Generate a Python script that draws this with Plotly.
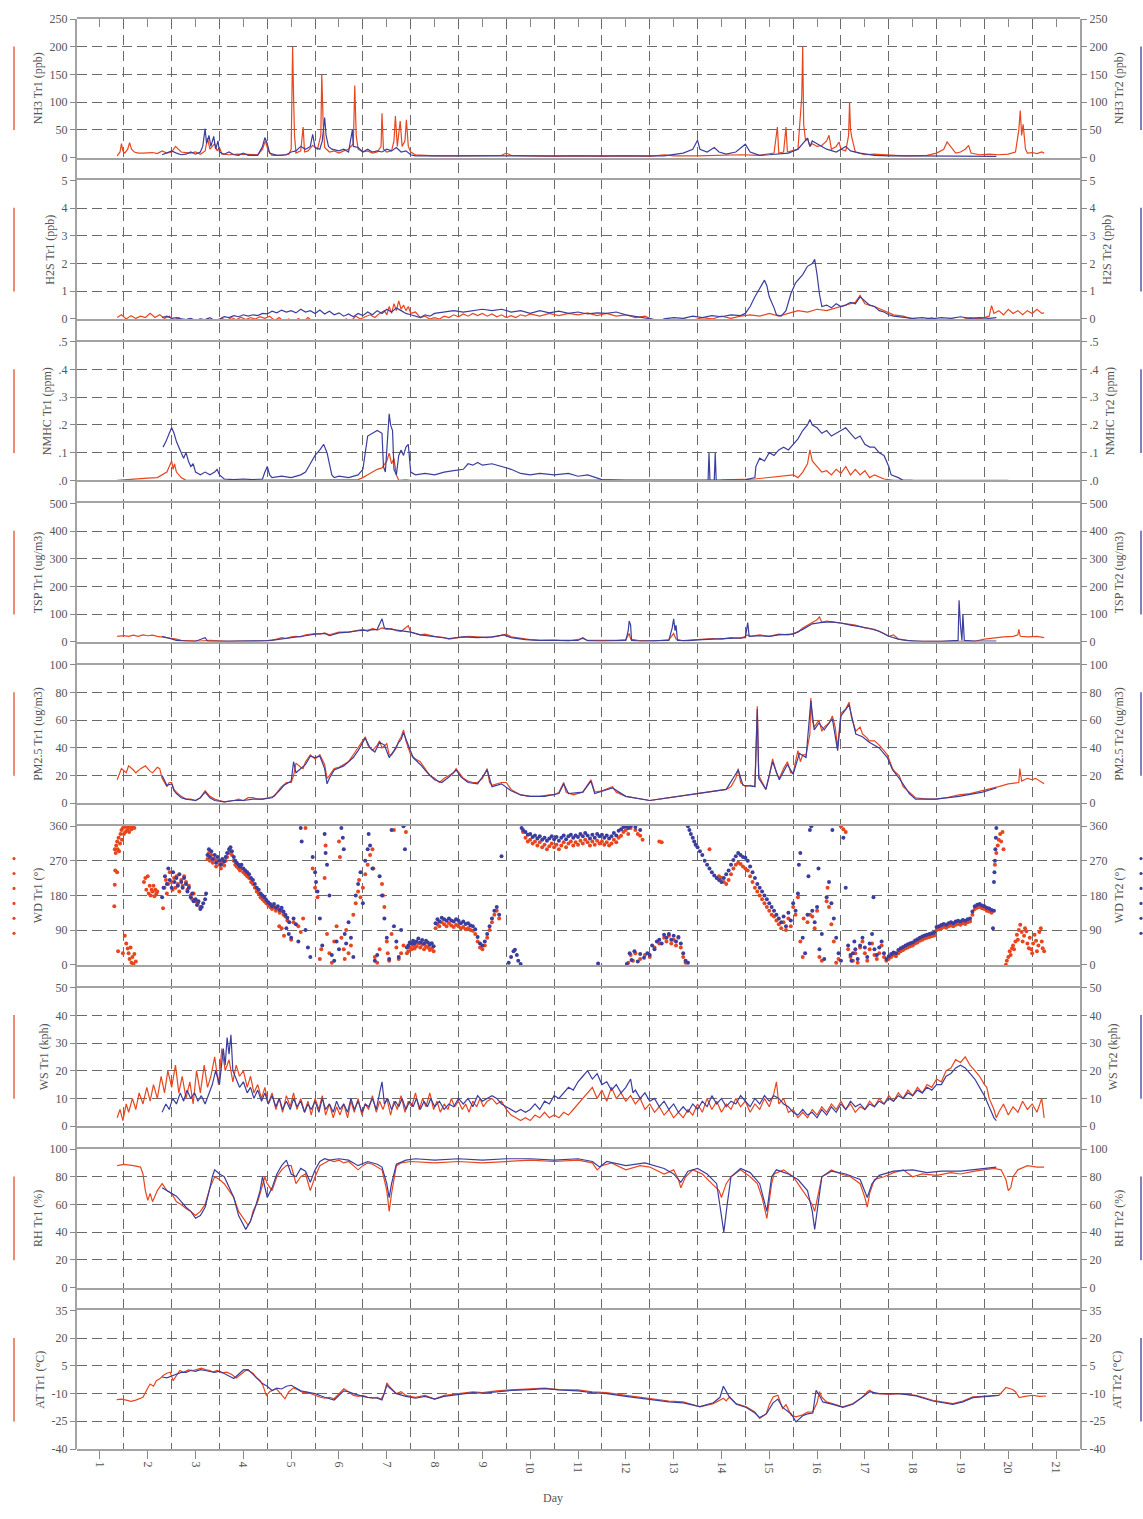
import plotly.graph_objects as go

# ---------------- data (day, value) ----------------
NH3_TR1 = [(1.36,3),(1.42,10),(1.45,25),(1.48,12),(1.52,8),(1.58,15),(1.62,27),(1.66,15),(1.72,10),(1.8,8),(1.9,8),(2.0,8),(2.1,9),(2.2,7),(2.3,12),(2.4,8),(2.5,10),(2.58,20),(2.64,14),(2.7,10),(2.8,9),(2.9,8),(3.0,10),(3.1,6),(3.2,12),(3.25,35),(3.3,15),(3.4,25),(3.45,12),(3.5,18),(3.55,6),(3.7,5),(3.9,6),(4.1,5),(4.3,5),(4.4,15),(4.46,30),(4.52,12),(4.6,4),(4.8,4),(4.95,6),(5.0,15),(5.03,200),(5.05,110),(5.07,40),(5.1,8),(5.2,12),(5.25,55),(5.28,10),(5.35,12),(5.45,22),(5.55,15),(5.62,40),(5.64,150),(5.67,60),(5.7,18),(5.8,10),(5.9,12),(6.0,8),(6.1,12),(6.2,15),(6.3,25),(6.33,130),(6.36,40),(6.4,15),(6.5,10),(6.6,12),(6.7,8),(6.8,10),(6.88,20),(6.9,80),(6.93,15),(7.0,10),(7.1,12),(7.15,30),(7.18,75),(7.22,20),(7.28,66),(7.32,20),(7.38,30),(7.41,68),(7.45,20),(7.5,10),(7.6,5),(7.8,4),(8.0,3),(8.5,3),(9.0,3),(9.4,4),(9.5,8),(9.6,4),(10.0,3),(10.5,2),(11.0,3),(11.5,2),(12.0,3),(12.5,2),(12.8,5),(13.0,3),(13.5,3),(14.0,4),(14.4,5),(14.8,4),(15.1,8),(15.17,55),(15.2,8),(15.3,10),(15.35,55),(15.38,10),(15.5,12),(15.6,15),(15.68,110),(15.7,200),(15.72,60),(15.76,30),(15.8,35),(15.85,20),(15.9,25),(16.0,20),(16.1,22),(16.2,30),(16.25,40),(16.3,15),(16.4,20),(16.46,28),(16.5,15),(16.6,12),(16.66,40),(16.68,100),(16.7,50),(16.73,35),(16.8,10),(17.0,5),(17.2,6),(17.5,4),(17.8,3),(18.0,3),(18.3,4),(18.5,8),(18.65,15),(18.72,28),(18.8,20),(18.9,8),(19.0,10),(19.1,15),(19.17,22),(19.22,8),(19.4,5),(19.6,6),(19.8,5),(20.0,6),(20.15,10),(20.22,50),(20.25,85),(20.28,40),(20.31,60),(20.33,45),(20.36,15),(20.4,8),(20.5,9),(20.6,7),(20.7,10),(20.75,8)]
NH3_TR2 = [(2.3,5),(2.4,8),(2.5,12),(2.6,8),(2.7,5),(2.8,6),(2.9,10),(3.0,6),(3.1,10),(3.15,20),(3.2,52),(3.23,25),(3.28,40),(3.32,20),(3.38,38),(3.42,15),(3.47,30),(3.5,10),(3.6,6),(3.7,10),(3.8,5),(3.9,4),(4.0,8),(4.1,4),(4.3,4),(4.4,20),(4.45,36),(4.5,25),(4.55,8),(4.7,4),(4.9,5),(5.0,10),(5.1,12),(5.2,20),(5.3,15),(5.4,20),(5.45,42),(5.5,18),(5.6,15),(5.65,30),(5.7,72),(5.73,40),(5.78,20),(5.85,15),(6.0,12),(6.1,15),(6.2,10),(6.28,50),(6.3,20),(6.4,18),(6.5,10),(6.6,15),(6.7,10),(6.8,12),(6.9,10),(7.0,15),(7.1,12),(7.2,18),(7.3,10),(7.4,12),(7.5,5),(7.6,3),(8.0,3),(9.0,2),(10.0,2),(11.0,2),(12.0,3),(12.8,3),(13.2,8),(13.4,15),(13.5,31),(13.55,15),(13.7,10),(13.85,18),(13.95,10),(14.1,6),(14.3,10),(14.45,20),(14.5,24),(14.6,10),(14.8,4),(15.0,5),(15.4,8),(15.6,15),(15.8,35),(15.85,20),(15.9,30),(16.0,25),(16.1,20),(16.2,15),(16.4,10),(16.6,20),(16.7,12),(16.9,8),(17.2,4),(17.5,3),(18.0,3),(18.5,3),(19.0,2),(19.5,2),(19.75,2)]

H2S_TR1 = [(1.36,0.05),(1.45,0.15),(1.55,0.0),(1.65,0.12),(1.75,0.02),(1.85,0.1),(1.95,0.05),(2.05,0.2),(2.15,0.05),(2.25,0.15),(2.35,0.02),(2.45,0.1),(2.55,-0.05),(2.65,0.05),(2.75,-0.08),(2.85,0.0),(2.95,-0.1),(3.05,-0.02),(3.15,-0.08),(3.25,0.02),(3.35,-0.05),(3.45,-0.1),(3.55,0.02),(3.65,-0.06),(3.75,0.05),(3.85,-0.03),(3.95,0.06),(4.05,-0.02),(4.15,0.05),(4.25,0.0),(4.35,0.08),(4.45,0.02),(4.55,0.1),(4.65,-0.05),(4.75,0.05),(4.85,-0.1),(4.95,0.0),(5.05,-0.12),(5.15,0.02),(5.25,-0.1),(5.35,0.05),(5.45,-0.08),(5.55,-0.02),(5.65,-0.15),(5.75,-0.05),(5.85,-0.12),(5.95,-0.02),(6.05,-0.1),(6.15,0.0),(6.25,-0.08),(6.35,0.1),(6.45,0.0),(6.55,0.08),(6.65,0.15),(6.75,0.05),(6.85,0.2),(6.95,0.3),(7.0,0.15),(7.05,0.45),(7.1,0.2),(7.15,0.55),(7.2,0.3),(7.25,0.65),(7.3,0.35),(7.35,0.5),(7.4,0.3),(7.45,0.45),(7.5,0.2),(7.6,0.25),(7.7,0.05),(7.8,0.1),(7.9,0.0),(8.0,0.05),(8.1,0.0),(8.2,0.1),(8.3,0.05),(8.4,0.15),(8.5,0.08),(8.6,0.18),(8.7,0.1),(8.8,0.2),(8.9,0.12),(9.0,0.2),(9.1,0.1),(9.2,0.18),(9.3,0.08),(9.4,0.15),(9.5,0.05),(9.6,0.12),(9.7,0.05),(9.8,0.15),(9.9,0.1),(10.0,0.18),(10.2,0.1),(10.4,0.2),(10.6,0.12),(10.8,0.2),(11.0,0.15),(11.2,0.22),(11.4,0.12),(11.6,0.2),(11.8,0.1),(12.0,0.15),(12.2,0.05),(12.4,0.1),(12.6,-0.05),(12.7,-0.12),(12.8,-0.05),(13.0,-0.1),(13.2,0.0),(13.4,-0.05),(13.6,0.05),(13.8,0.0),(14.0,0.1),(14.2,0.02),(14.4,0.1),(14.6,0.15),(14.8,0.1),(15.0,0.2),(15.2,0.1),(15.4,0.2),(15.6,0.3),(15.8,0.25),(16.0,0.35),(16.2,0.3),(16.4,0.4),(16.6,0.5),(16.8,0.6),(16.9,0.85),(17.0,0.55),(17.2,0.45),(17.4,0.3),(17.6,0.15),(17.8,0.1),(18.0,0.0),(18.2,-0.05),(18.4,0.05),(18.6,-0.1),(18.8,0.0),(19.0,-0.05),(19.2,0.05),(19.4,0.0),(19.6,0.1),(19.65,0.48),(19.7,0.2),(19.8,0.3),(19.9,0.15),(20.0,0.35),(20.1,0.2),(20.2,0.3),(20.3,0.15),(20.4,0.3),(20.5,0.2),(20.6,0.35),(20.7,0.2),(20.75,0.22)]
H2S_TR2 = [(2.3,0.05),(2.4,0.1),(2.5,0.02),(2.6,0.05),(2.7,0.0),(2.8,-0.02),(2.9,0.02),(3.0,-0.05),(3.1,0.0),(3.2,-0.03),(3.3,0.05),(3.4,-0.06),(3.5,0.0),(3.6,0.08),(3.7,0.05),(3.8,0.12),(3.9,0.08),(4.0,0.15),(4.1,0.1),(4.2,0.15),(4.3,0.12),(4.4,0.2),(4.5,0.18),(4.6,0.28),(4.7,0.22),(4.8,0.32),(4.9,0.25),(5.0,0.3),(5.1,0.22),(5.2,0.35),(5.3,0.25),(5.4,0.3),(5.5,0.2),(5.6,0.32),(5.7,0.18),(5.8,0.28),(5.9,0.15),(6.0,0.22),(6.1,0.1),(6.2,0.18),(6.3,0.08),(6.4,0.2),(6.5,0.12),(6.6,0.25),(6.7,0.15),(6.8,0.3),(6.9,0.2),(7.0,0.35),(7.1,0.25),(7.2,0.4),(7.3,0.3),(7.4,0.2),(7.5,0.15),(7.6,0.1),(7.7,0.05),(7.8,0.15),(7.9,0.1),(8.0,0.2),(8.2,0.25),(8.4,0.3),(8.6,0.25),(8.8,0.3),(9.0,0.35),(9.2,0.3),(9.4,0.35),(9.6,0.25),(9.8,0.3),(10.0,0.2),(10.2,0.3),(10.4,0.22),(10.6,0.28),(10.8,0.2),(11.0,0.25),(11.2,0.18),(11.4,0.22),(11.6,0.2),(11.8,0.25),(12.0,0.15),(12.2,0.1),(12.4,0.05),(12.6,-0.02),(12.7,-0.08),(12.8,0.0),(13.0,0.05),(13.2,0.02),(13.4,0.1),(13.6,0.05),(13.8,0.12),(14.0,0.08),(14.2,0.15),(14.4,0.12),(14.5,0.2),(14.6,0.45),(14.7,0.8),(14.8,1.1),(14.9,1.4),(14.95,1.2),(15.0,0.8),(15.1,0.4),(15.15,0.15),(15.25,0.1),(15.35,0.3),(15.45,0.9),(15.55,1.3),(15.7,1.6),(15.8,1.9),(15.9,2.0),(15.95,2.15),(16.0,1.6),(16.05,0.9),(16.1,0.45),(16.2,0.5),(16.3,0.4),(16.4,0.55),(16.5,0.45),(16.6,0.5),(16.7,0.6),(16.8,0.55),(16.9,0.8),(17.0,0.65),(17.1,0.5),(17.2,0.45),(17.3,0.3),(17.4,0.25),(17.5,0.15),(17.6,0.1),(17.8,0.05),(18.0,0.02),(18.2,0.05),(18.4,0.0),(18.6,0.05),(18.8,0.02),(19.0,0.08),(19.2,0.02),(19.4,0.05),(19.6,0.02),(19.75,0.05)]

NMHC_TR1 = [(1.36,0.0),(1.6,0.002),(1.8,0.005),(2.0,0.008),(2.2,0.01),(2.3,0.02),(2.4,0.03),(2.45,0.05),(2.5,0.07),(2.53,0.04),(2.56,0.06),(2.6,0.03),(2.7,0.01),(2.8,0.0),(3.5,0.0),(4.0,0.002),(5.0,0.0),(6.0,0.002),(6.4,0.003),(6.5,0.01),(6.6,0.02),(6.7,0.03),(6.8,0.04),(6.9,0.045),(7.0,0.07),(7.05,0.098),(7.1,0.06),(7.15,0.08),(7.2,0.02),(7.25,0.0),(7.4,0.002),(7.5,0.0),(8.0,0.0),(10.0,0.0),(12.0,0.0),(14.0,0.002),(14.7,0.005),(15.0,0.01),(15.3,0.015),(15.5,0.02),(15.6,0.01),(15.7,0.03),(15.8,0.06),(15.85,0.11),(15.9,0.07),(16.0,0.05),(16.1,0.03),(16.2,0.035),(16.3,0.02),(16.4,0.04),(16.5,0.025),(16.6,0.05),(16.7,0.02),(16.8,0.04),(16.9,0.02),(17.0,0.035),(17.1,0.01),(17.2,0.02),(17.4,0.005),(17.6,0.0),(18.0,0.0),(19.0,0.0),(20.0,0.0)]
NMHC_TR2 = [(2.32,0.12),(2.38,0.14),(2.45,0.17),(2.5,0.19),(2.55,0.17),(2.6,0.14),(2.65,0.12),(2.7,0.1),(2.75,0.08),(2.8,0.1),(2.85,0.07),(2.9,0.05),(2.95,0.06),(3.0,0.03),(3.1,0.02),(3.2,0.03),(3.3,0.02),(3.4,0.03),(3.45,0.04),(3.5,0.02),(3.6,0.005),(3.8,0.003),(4.0,0.005),(4.2,0.003),(4.4,0.005),(4.45,0.03),(4.5,0.05),(4.55,0.02),(4.6,0.01),(4.8,0.015),(5.0,0.01),(5.2,0.02),(5.3,0.03),(5.4,0.06),(5.5,0.09),(5.6,0.11),(5.68,0.13),(5.75,0.1),(5.8,0.06),(5.85,0.02),(5.9,0.01),(6.0,0.015),(6.2,0.01),(6.4,0.02),(6.5,0.04),(6.55,0.1),(6.6,0.16),(6.7,0.17),(6.8,0.18),(6.9,0.17),(6.93,0.05),(6.97,0.03),(7.0,0.12),(7.05,0.24),(7.08,0.2),(7.12,0.18),(7.15,0.04),(7.2,0.02),(7.25,0.09),(7.3,0.11),(7.35,0.09),(7.4,0.12),(7.45,0.13),(7.5,0.03),(7.6,0.02),(7.8,0.025),(8.0,0.02),(8.2,0.03),(8.4,0.035),(8.6,0.04),(8.7,0.06),(8.8,0.055),(8.9,0.065),(9.0,0.055),(9.2,0.06),(9.4,0.05),(9.6,0.04),(9.8,0.025),(10.0,0.02),(10.2,0.025),(10.5,0.02),(10.8,0.025),(11.0,0.015),(11.2,0.02),(11.5,0.003),(12.0,0.0),(13.0,0.0),(13.72,0.0),(13.74,0.1),(13.76,0.0),(13.85,0.0),(13.87,0.1),(13.89,0.0),(14.0,0.0),(14.5,0.002),(14.7,0.01),(14.72,0.05),(14.8,0.08),(14.9,0.07),(15.0,0.1),(15.1,0.09),(15.2,0.11),(15.3,0.12),(15.4,0.11),(15.5,0.13),(15.6,0.15),(15.7,0.18),(15.8,0.2),(15.85,0.22),(15.9,0.2),(16.0,0.19),(16.1,0.17),(16.2,0.18),(16.3,0.16),(16.4,0.17),(16.5,0.18),(16.6,0.19),(16.7,0.17),(16.8,0.15),(16.9,0.16),(17.0,0.13),(17.1,0.12),(17.2,0.12),(17.3,0.1),(17.4,0.09),(17.5,0.05),(17.55,0.02),(17.7,0.01),(17.8,0.0),(18.0,0.0)]

TSP_TR1 = [(1.36,20),(1.5,22),(1.6,20),(1.7,24),(1.8,20),(1.9,25),(2.0,22),(2.1,24),(2.2,20),(2.3,18),(2.4,15),(2.5,12),(2.6,10),(2.7,5),(2.9,4),(3.1,3),(3.3,5),(3.5,3),(3.7,2),(3.9,3),(4.1,2),(4.3,3),(4.5,4),(4.6,5),(4.7,10),(4.8,15),(4.9,12),(5.0,18),(5.1,20),(5.2,18),(5.3,25),(5.5,30),(5.6,28),(5.7,32),(5.8,25),(5.9,30),(6.0,35),(6.2,35),(6.4,40),(6.5,45),(6.6,38),(6.7,48),(6.8,42),(6.9,50),(7.0,45),(7.1,48),(7.2,40),(7.3,38),(7.45,58),(7.5,35),(7.6,30),(7.7,25),(7.8,28),(8.0,20),(8.2,15),(8.3,10),(8.5,15),(8.7,20),(8.9,18),(9.1,15),(9.3,20),(9.5,28),(9.6,18),(9.8,12),(10.0,8),(10.2,5),(10.5,6),(10.8,3),(11.0,8),(11.1,12),(11.2,5),(11.5,4),(11.8,5),(12.0,8),(12.07,30),(12.1,10),(12.3,4),(12.6,3),(12.9,8),(13.0,30),(13.05,10),(13.2,4),(13.5,8),(13.8,12),(14.0,10),(14.2,15),(14.4,12),(14.55,25),(14.6,20),(14.8,25),(15.0,20),(15.2,28),(15.4,25),(15.5,30),(15.6,35),(15.7,50),(15.8,60),(15.9,70),(16.0,80),(16.05,90),(16.1,70),(16.2,75),(16.4,70),(16.6,65),(16.8,60),(17.0,50),(17.2,45),(17.4,30),(17.5,20),(17.6,25),(17.7,10),(17.9,5),(18.0,3),(18.5,2),(19.0,3),(19.3,2),(19.5,10),(19.7,15),(19.9,18),(20.1,20),(20.2,25),(20.22,45),(20.25,20),(20.4,18),(20.6,20),(20.75,15)]
TSP_TR2 = [(2.3,20),(2.4,15),(2.5,8),(2.6,5),(2.8,3),(3.0,2),(3.2,15),(3.25,3),(3.5,2),(4.0,2),(4.5,4),(4.7,8),(4.9,12),(5.1,18),(5.3,22),(5.5,28),(5.7,30),(5.8,22),(6.0,32),(6.2,35),(6.4,40),(6.6,42),(6.8,45),(6.9,83),(6.95,50),(7.1,45),(7.3,40),(7.5,35),(7.7,25),(8.0,18),(8.3,12),(8.6,18),(8.9,15),(9.2,18),(9.45,25),(9.6,15),(9.9,8),(10.2,5),(10.5,4),(10.8,3),(11.0,5),(11.1,15),(11.2,4),(11.5,3),(11.8,4),(12.0,5),(12.05,40),(12.07,75),(12.1,60),(12.12,5),(12.3,3),(12.6,3),(12.9,5),(12.97,50),(13.0,83),(13.03,40),(13.05,60),(13.08,5),(13.3,4),(13.6,8),(13.9,10),(14.2,12),(14.5,15),(14.55,69),(14.58,20),(14.8,22),(15.0,20),(15.2,25),(15.5,28),(15.7,45),(15.9,65),(16.1,70),(16.3,72),(16.5,68),(16.7,60),(16.9,55),(17.1,48),(17.3,38),(17.5,20),(17.7,10),(17.9,4),(18.2,2),(18.6,2),(18.95,5),(18.97,150),(19.0,60),(19.03,5),(19.05,100),(19.08,5),(19.3,3),(19.6,2),(19.75,3)]

PM25_TR1 = [(1.36,17),(1.45,25),(1.55,22),(1.6,27),(1.7,24),(1.75,22),(1.85,25),(1.95,27),(2.05,23),(2.1,22),(2.2,26),(2.25,25),(2.3,18),(2.4,12),(2.45,15),(2.5,15),(2.55,10),(2.6,8),(2.7,5),(2.8,3),(2.9,3),(3.0,2),(3.1,4),(3.2,9),(3.3,5),(3.4,3),(3.5,2),(3.6,1),(3.8,2),(3.9,3),(4.0,2),(4.1,4),(4.2,4),(4.3,3),(4.4,3),(4.5,4),(4.65,5),(4.75,10),(4.8,12),(4.9,15),(5.0,15),(5.05,20),(5.1,29),(5.2,26),(5.25,25),(5.3,30),(5.4,35),(5.5,32),(5.6,35),(5.7,28),(5.75,18),(5.8,20),(5.9,25),(6.0,26),(6.1,28),(6.2,30),(6.3,35),(6.4,40),(6.5,45),(6.55,48),(6.6,42),(6.7,38),(6.8,42),(6.85,45),(6.9,40),(7.0,43),(7.05,35),(7.1,35),(7.2,40),(7.25,45),(7.3,48),(7.35,53),(7.4,45),(7.5,35),(7.6,32),(7.7,30),(7.8,25),(7.9,20),(8.0,18),(8.1,15),(8.2,18),(8.3,20),(8.4,22),(8.45,25),(8.55,20),(8.6,18),(8.7,16),(8.8,15),(8.9,15),(9.0,18),(9.1,25),(9.15,15),(9.2,13),(9.3,14),(9.4,15),(9.5,15),(9.6,10),(9.7,8),(9.8,6),(10.0,5),(10.2,5),(10.4,6),(10.5,6),(10.6,8),(10.7,15),(10.75,8),(10.9,6),(11.1,8),(11.27,17),(11.35,8),(11.5,9),(11.72,12),(11.8,8),(12.0,5),(12.2,4),(12.5,2),(12.7,3),(12.9,4),(13.1,5),(13.3,6),(13.5,7),(13.7,8),(13.9,9),(14.1,10),(14.2,12),(14.3,18),(14.35,25),(14.4,15),(14.5,12),(14.6,13),(14.7,12),(14.75,70),(14.78,20),(14.85,15),(14.93,10),(15.0,20),(15.07,32),(15.15,22),(15.21,18),(15.3,25),(15.38,30),(15.45,22),(15.5,22),(15.6,38),(15.65,30),(15.7,35),(15.77,35),(15.85,50),(15.87,76),(15.9,60),(15.94,55),(16.0,58),(16.04,60),(16.1,52),(16.15,55),(16.25,58),(16.32,63),(16.38,55),(16.43,40),(16.47,55),(16.5,65),(16.6,68),(16.67,73),(16.72,62),(16.81,52),(16.9,55),(16.95,50),(17.05,47),(17.09,45),(17.2,45),(17.3,42),(17.4,38),(17.47,35),(17.58,25),(17.65,22),(17.72,20),(17.8,12),(17.93,8),(18.06,4),(18.3,3),(18.48,3),(18.7,4),(18.97,6),(19.2,7),(19.46,9),(19.6,10),(19.8,12),(20.0,14),(20.22,15),(20.24,25),(20.28,16),(20.4,18),(20.5,17),(20.57,18),(20.65,16),(20.75,14)]
PM25_TR2 = [(2.3,20),(2.4,13),(2.5,14),(2.55,9),(2.6,7),(2.7,4),(2.8,3),(3.0,2),(3.1,4),(3.2,8),(3.3,4),(3.4,2),(3.6,1),(3.8,2),(4.0,2),(4.2,3),(4.4,3),(4.6,4),(4.75,9),(4.85,13),(5.0,16),(5.05,30),(5.1,22),(5.2,25),(5.3,28),(5.4,34),(5.5,33),(5.6,34),(5.7,25),(5.75,14),(5.8,18),(5.9,24),(6.1,27),(6.3,33),(6.4,38),(6.5,44),(6.55,47),(6.65,40),(6.75,37),(6.85,44),(6.95,42),(7.05,33),(7.15,38),(7.25,44),(7.3,46),(7.35,51),(7.45,42),(7.55,33),(7.7,28),(7.85,22),(8.0,17),(8.15,15),(8.3,19),(8.45,24),(8.55,19),(8.7,15),(8.9,14),(9.1,24),(9.2,12),(9.4,14),(9.6,9),(9.8,6),(10.0,5),(10.3,5),(10.6,7),(10.7,14),(10.8,7),(11.1,8),(11.27,16),(11.35,7),(11.72,11),(12.0,5),(12.5,2),(12.9,4),(13.3,6),(13.7,8),(14.1,10),(14.35,24),(14.45,13),(14.7,12),(14.75,68),(14.78,18),(14.93,10),(15.07,30),(15.21,17),(15.38,28),(15.5,21),(15.63,36),(15.77,33),(15.87,74),(15.94,53),(16.04,58),(16.15,53),(16.32,61),(16.43,38),(16.5,63),(16.67,71),(16.81,50),(16.95,48),(17.09,44),(17.3,40),(17.47,33),(17.58,24),(17.72,18),(17.93,7),(18.06,3),(18.48,3),(18.97,5),(19.46,8),(19.75,11)]

WD_TR1 = [(1.31,300),(1.33,290),(1.34,310),(1.36,320),(1.37,300),(1.39,330),(1.40,295),(1.42,315),(1.43,340),(1.45,350),(1.46,325),(1.48,355),(1.50,340),(1.51,358),(1.53,345),(1.55,360),(1.57,350),(1.59,355),(1.61,345),(1.63,358),(1.66,352),(1.69,358),(1.72,355),
(1.32,245),(1.36,240),(1.31,208),(1.30,152),(1.38,35),(1.48,30),(1.52,75),(1.55,55),(1.58,42),(1.60,30),(1.62,15),(1.64,45),(1.66,5),(1.68,20),(1.70,2),(1.72,28),(1.75,8),
(1.92,215),(1.95,225),(1.97,195),(2.0,230),(2.02,185),(2.04,205),(2.06,180),(2.08,195),(2.10,190),(2.12,205),(2.14,178),(2.16,195),(2.18,185),(2.2,190),
(2.32,147),(2.35,200),(2.38,220),(2.4,185),(2.43,210),(2.46,240),(2.5,215),(2.52,195),(2.55,225),(2.58,200),(2.6,230),(2.63,210),(2.66,190),(2.7,220),(2.73,205),(2.76,230),(2.8,215),(2.83,195),(2.86,205),(2.9,180),(2.93,170),(2.96,185),(3.0,165),(3.05,160),(3.1,150),
(3.25,275),(3.28,290),(3.3,270),(3.33,285),(3.36,265),(3.4,275),(3.43,255),(3.46,270),(3.5,260),(3.53,250),(3.56,265),(3.6,258),(3.63,270),(3.66,280),(3.7,290),(3.73,295),(3.76,285),(3.8,270),(3.83,260),(3.86,255),(3.9,250),(3.93,245),(3.96,250),(4.0,240),
(4.04,235),(4.08,230),(4.12,225),(4.16,215),(4.2,210),(4.24,200),(4.28,190),(4.32,185),(4.36,175),(4.4,170),(4.44,165),(4.48,160),(4.52,155),(4.56,150),(4.6,145),(4.64,150),(4.68,140),(4.72,145),(4.76,135),(4.8,140),(4.84,130),(4.88,125),(4.92,115),
(4.75,100),(4.8,95),(4.85,75),(5.0,65),(5.05,110),(5.15,100),(5.2,85),(5.25,120),
(5.3,355),(5.45,250),(5.5,200),(5.55,175),(5.6,15),(5.63,40),(5.7,225),(5.72,310),(5.75,80),(5.8,30),(5.85,5),(5.9,60),(5.95,100),(6.0,320),(6.02,280),(6.05,70),(6.1,40),(6.12,15),(6.15,90),(6.2,30),(6.25,50),(6.3,130),(6.35,160),(6.4,190),(6.42,220),(6.45,175),(6.5,200),(6.55,235),(6.6,260),(6.65,285),(6.7,300),(6.72,250),(6.75,20),(6.8,5),(6.85,40),(6.9,210),(6.92,180),(6.95,150),(7.0,60),(7.02,30),(7.05,10),(7.1,80),(7.15,350),(7.2,45),(7.25,15),(7.3,30),(7.35,50),(7.4,345),
(7.42,30),(7.45,35),(7.48,45),(7.52,40),(7.55,50),(7.58,42),(7.62,48),(7.66,55),(7.7,45),(7.74,52),(7.78,40),(7.82,48),(7.86,45),(7.9,38),(7.94,42),(7.98,35),
(8.02,95),(8.06,105),(8.1,100),(8.15,110),(8.2,105),(8.25,100),(8.3,108),(8.35,102),(8.4,98),(8.45,104),(8.5,100),(8.55,95),(8.6,98),(8.65,92),(8.7,95),(8.75,90),(8.8,88),(8.85,80),(8.9,60),(8.95,45),(9.0,40),(9.05,50),
(9.1,70),(9.15,90),(9.2,110),(9.25,130),(9.3,140),(9.35,120),
(9.85,345),(9.9,330),(9.95,320),(10.0,325),(10.05,315),(10.1,320),(10.15,310),(10.2,318),(10.25,305),(10.3,312),(10.35,300),(10.4,308),(10.45,315),(10.5,305),(10.55,312),(10.6,300),(10.65,310),(10.7,318),(10.75,305),(10.8,315),(10.85,320),(10.9,310),(10.95,318),(11.0,312),(11.05,322),(11.1,315),(11.15,325),(11.2,318),(11.25,310),(11.3,320),(11.35,312),(11.4,322),(11.45,315),(11.5,320),(11.55,312),(11.6,318),(11.65,310),(11.7,315),(11.75,325),(11.8,318),(11.85,330),(11.9,335),(11.95,345),(12.0,350),(12.05,340),(12.1,355),(12.2,350),(12.25,340),(12.3,335),(12.35,325),(12.7,320),(12.75,318),
(12.05,5),(12.1,25),(12.15,10),(12.2,30),(12.3,15),(12.4,25),(12.5,20),(12.6,45),(12.7,55),(12.8,70),(12.85,60),(12.9,75),(12.95,55),(13.0,65),(13.05,50),(13.1,70),(13.15,45),(13.2,20),(13.25,5),
(13.75,300),(13.95,230),(14.0,225),(14.05,215),(14.1,210),(14.15,220),(14.2,235),(14.25,250),(14.3,260),(14.35,265),(14.4,262),(14.45,255),(14.5,250),(14.55,245),(14.6,230),(14.65,215),(14.7,200),(14.75,190),(14.8,180),(14.85,170),(14.9,160),(14.95,150),(15.0,140),(15.05,130),(15.1,125),(15.15,115),(15.2,105),(15.25,95),(15.3,110),(15.35,90),(15.4,120),(15.45,100),(15.5,150),(15.55,130),(15.6,175),(15.65,60),(15.7,20),(15.72,120),(15.8,110),(15.85,130),(15.9,125),(15.95,95),(16.0,140),(16.05,20),(16.1,10),(16.2,165),(16.22,200),(16.25,150),(16.3,105),(16.35,60),(16.4,5),(16.45,15),(16.5,360),(16.55,352),(16.6,345),(16.65,40),(16.7,20),(16.75,10),(16.8,30),(16.85,5),(16.9,45),(16.95,60),(17.0,30),(17.05,10),(17.1,40),(17.15,55),(17.2,25),(17.25,15),(17.3,30),(17.35,50),(17.4,20),
(17.45,10),(17.5,15),(17.55,20),(17.6,25),(17.65,22),(17.7,30),(17.75,35),(17.8,38),(17.85,42),(17.9,45),(17.95,48),(18.0,50),(18.05,55),(18.1,58),(18.15,62),(18.2,65),(18.25,68),(18.3,70),(18.35,72),(18.4,74),(18.45,76),
(18.5,90),(18.55,92),(18.6,95),(18.65,98),(18.7,96),(18.75,100),(18.8,102),(18.85,100),(18.9,104),(18.95,106),(19.0,104),(19.05,108),(19.1,106),(19.15,110),(19.2,112),(19.25,130),(19.3,145),(19.35,148),(19.4,150),(19.45,147),(19.5,145),(19.55,140),(19.6,138),(19.65,135),
(19.72,260),(19.75,290),(19.78,310),(19.8,325),(19.83,340),(19.85,320),(19.88,345),(19.9,300),
(19.95,0),(19.97,10),(20.0,20),(20.03,35),(20.05,25),(20.08,43),(20.1,50),(20.12,40),(20.15,60),(20.18,78),(20.2,65),(20.22,90),(20.25,104),(20.28,85),(20.3,60),(20.33,75),(20.35,95),(20.38,87),(20.4,55),(20.43,43),(20.45,70),(20.48,40),(20.5,30),(20.52,55),(20.55,78),(20.58,62),(20.6,35),(20.63,50),(20.65,85),(20.68,95),(20.7,60),(20.72,43),(20.75,35)]
WD_TR2 = [(2.3,175),(2.33,200),(2.36,230),(2.4,210),(2.43,250),(2.46,220),(2.5,200),(2.53,240),(2.56,215),(2.6,225),(2.63,205),(2.66,235),(2.7,215),(2.73,200),(2.76,225),(2.8,210),(2.83,190),(2.86,200),(2.9,175),(2.93,185),(2.96,165),(3.0,170),(3.03,155),(3.06,165),(3.1,145),(3.13,150),(3.16,160),(3.2,170),(3.22,185),
(3.25,285),(3.28,300),(3.3,280),(3.33,295),(3.36,275),(3.4,285),(3.43,265),(3.46,280),(3.5,270),(3.53,260),(3.56,275),(3.6,268),(3.63,280),(3.66,290),(3.7,300),(3.73,305),(3.76,295),(3.8,280),(3.83,270),(3.86,265),(3.9,260),(3.93,255),(3.96,260),(4.0,250),
(4.04,245),(4.08,240),(4.12,235),(4.16,225),(4.2,220),(4.24,210),(4.28,200),(4.32,195),(4.36,185),(4.4,180),(4.44,175),(4.48,168),(4.52,162),(4.56,158),(4.6,152),(4.64,158),(4.68,148),(4.72,152),(4.76,142),(4.8,148),(4.84,138),(4.88,130),(4.92,122),(4.96,110),
(4.9,95),(4.95,80),(5.0,70),(5.05,120),(5.1,105),(5.15,60),(5.2,355),(5.22,320),(5.3,90),(5.35,45),(5.4,20),(5.45,280),(5.5,240),(5.52,215),(5.55,190),(5.6,120),(5.65,50),(5.7,340),(5.72,290),(5.75,260),(5.8,180),(5.85,25),(5.9,10),(5.95,60),(6.0,40),(6.05,355),(6.08,330),(6.1,300),(6.12,80),(6.15,55),(6.2,110),(6.25,70),(6.3,20),(6.35,180),(6.4,210),(6.45,240),(6.5,160),(6.55,270),(6.6,300),(6.62,340),(6.65,310),(6.7,250),(6.75,10),(6.8,25),(6.85,230),(6.9,180),(6.95,120),(7.0,70),(7.05,15),(7.1,350),(7.15,100),(7.2,60),(7.25,20),(7.3,90),(7.35,360),(7.38,300),
(7.42,45),(7.45,50),(7.48,58),(7.52,55),(7.55,62),(7.58,56),(7.62,60),(7.66,68),(7.7,58),(7.74,64),(7.78,55),(7.82,62),(7.86,58),(7.9,52),(7.94,56),(7.98,48),
(8.02,108),(8.06,118),(8.1,112),(8.15,122),(8.2,118),(8.25,114),(8.3,120),(8.35,115),(8.4,112),(8.45,118),(8.5,114),(8.55,108),(8.6,112),(8.65,106),(8.7,108),(8.75,102),(8.8,100),(8.85,92),(8.9,72),(8.95,55),(9.0,50),(9.05,60),
(9.1,80),(9.15,100),(9.2,120),(9.25,140),(9.3,150),(9.35,130),(9.4,282),
(9.55,5),(9.6,20),(9.65,35),(9.68,39),(9.72,25),(9.75,10),(9.8,2),
(9.82,355),(9.85,350),(9.9,345),(9.95,338),(10.0,340),(10.05,332),(10.1,336),(10.15,328),(10.2,334),(10.25,325),(10.3,330),(10.35,322),(10.4,328),(10.45,334),(10.5,326),(10.55,332),(10.6,322),(10.65,330),(10.7,336),(10.75,326),(10.8,334),(10.85,338),(10.9,330),(10.95,336),(11.0,332),(11.05,340),(11.1,334),(11.15,342),(11.2,336),(11.25,328),(11.3,338),(11.35,330),(11.4,340),(11.45,334),(11.5,338),(11.55,330),(11.6,336),(11.65,328),(11.7,334),(11.75,342),(11.8,336),(11.85,348),(11.9,352),(11.95,358),(12.0,360),(12.05,355),(12.1,360),(12.2,358),(12.3,350),(11.42,3),
(12.02,2),(12.08,30),(12.12,12),(12.18,35),(12.25,8),(12.3,28),(12.38,18),(12.45,30),(12.5,25),(12.55,50),(12.6,40),(12.65,60),(12.7,65),(12.75,55),(12.8,78),(12.85,70),(12.9,80),(12.95,65),(13.0,75),(13.05,60),(13.1,72),(13.15,55),(13.2,30),(13.25,10),(13.3,5),
(13.3,360),(13.33,350),(13.36,340),(13.4,330),(13.43,320),(13.46,312),(13.5,305),(13.55,295),(13.6,285),(13.65,270),(13.7,260),(13.75,250),(13.8,240),(13.85,232),(13.9,225),(13.95,220),(14.0,215),(14.05,225),(14.1,235),(14.15,245),(14.2,260),(14.25,272),(14.3,282),(14.35,290),(14.4,285),(14.45,280),(14.5,278),(14.55,270),(14.6,255),(14.65,240),(14.7,225),(14.75,210),(14.8,200),(14.85,190),(14.9,180),(14.95,170),(15.0,160),(15.05,150),(15.1,140),(15.15,130),(15.2,120),(15.25,110),(15.3,125),(15.35,100),(15.4,135),(15.45,115),(15.5,160),(15.55,140),(15.6,185),(15.62,260),(15.65,290),(15.7,70),(15.75,30),(15.8,130),(15.82,230),(15.85,350),(15.88,360),(15.9,140),(15.95,110),(16.0,150),(16.03,250),(16.05,40),(16.1,80),(16.15,15),(16.2,175),(16.25,215),(16.3,160),(16.32,350),(16.35,120),(16.4,70),(16.45,30),(16.5,10),(16.55,330),(16.6,200),(16.65,50),(16.7,25),
(16.72,10),(16.75,30),(16.78,60),(16.8,40),(16.85,15),(16.9,50),(16.95,70),(17.0,45),(17.05,20),(17.1,55),(17.15,80),(17.18,175),(17.2,40),(17.25,25),(17.3,45),(17.35,60),(17.4,30),
(17.45,15),(17.5,22),(17.55,28),(17.6,32),(17.65,30),(17.7,38),(17.75,43),(17.8,46),(17.85,50),(17.9,53),(17.95,56),(18.0,58),(18.05,63),(18.1,66),(18.15,70),(18.2,73),(18.25,76),(18.3,78),(18.35,80),(18.4,82),(18.45,84),
(18.5,98),(18.55,100),(18.6,103),(18.65,106),(18.7,104),(18.75,108),(18.8,110),(18.85,108),(18.9,112),(18.95,114),(19.0,112),(19.05,116),(19.1,114),(19.15,118),(19.2,120),(19.25,138),(19.3,152),(19.35,156),(19.4,158),(19.45,154),(19.5,152),(19.55,148),(19.6,146),(19.65,142),(19.7,140),
(19.68,95),(19.7,215),(19.71,240),(19.72,270),(19.73,300),(19.74,330),(19.75,355)]

WS_TR1 = [(1.36,3),(1.42,6),(1.48,2),(1.55,8),(1.6,5),(1.68,10),(1.75,6),(1.82,12),(1.9,8),(1.98,14),(2.05,9),(2.12,15),(2.2,10),(2.28,18),(2.35,12),(2.42,20),(2.5,14),(2.58,22),(2.65,12),(2.72,18),(2.8,10),(2.88,16),(2.95,8),(3.02,20),(3.1,12),(3.18,22),(3.25,14),(3.32,18),(3.4,25),(3.48,15),(3.55,28),(3.62,20),(3.7,24),(3.78,16),(3.85,22),(3.92,18),(4.0,20),(4.08,14),(4.15,18),(4.22,12),(4.3,15),(4.38,10),(4.45,14),(4.52,8),(4.6,12),(4.68,6),(4.75,10),(4.82,5),(4.9,11),(4.98,7),(5.05,12),(5.12,6),(5.2,10),(5.28,5),(5.35,9),(5.42,4),(5.5,10),(5.58,6),(5.65,11),(5.72,4),(5.8,8),(5.88,3),(5.95,7),(6.02,4),(6.1,8),(6.18,3),(6.25,9),(6.32,5),(6.4,10),(6.48,4),(6.55,8),(6.62,6),(6.7,11),(6.78,5),(6.85,9),(6.92,6),(7.0,10),(7.08,4),(7.15,9),(7.22,6),(7.3,11),(7.38,5),(7.45,9),(7.52,7),(7.6,12),(7.68,6),(7.75,10),(7.82,7),(7.9,12),(7.98,6),(8.05,9),(8.12,5),(8.2,8),(8.28,6),(8.35,10),(8.42,7),(8.5,9),(8.58,6),(8.65,8),(8.72,5),(8.8,9),(8.88,7),(8.95,10),(9.02,7),(9.1,9),(9.2,10),(9.3,8),(9.4,9),(9.5,6),(9.6,4),(9.7,3),(9.8,2),(9.9,3),(10.0,2),(10.1,4),(10.2,3),(10.3,5),(10.4,3),(10.5,4),(10.6,3),(10.7,5),(10.8,4),(10.9,6),(11.0,8),(11.1,10),(11.2,12),(11.3,14),(11.4,10),(11.5,13),(11.6,9),(11.7,14),(11.8,10),(11.9,12),(12.0,9),(12.1,11),(12.2,8),(12.3,10),(12.4,6),(12.5,8),(12.6,5),(12.7,7),(12.8,4),(12.9,6),(13.0,3),(13.1,5),(13.2,3),(13.3,6),(13.4,4),(13.5,8),(13.6,5),(13.7,10),(13.8,6),(13.9,9),(14.0,5),(14.1,8),(14.2,6),(14.3,10),(14.4,7),(14.5,9),(14.6,5),(14.7,8),(14.8,6),(14.9,10),(15.0,7),(15.1,12),(15.15,16),(15.2,8),(15.3,10),(15.4,5),(15.5,6),(15.6,3),(15.7,5),(15.8,3),(15.9,6),(16.0,4),(16.1,7),(16.2,5),(16.3,8),(16.4,6),(16.5,9),(16.6,6),(16.7,8),(16.8,5),(16.9,7),(17.0,6),(17.1,9),(17.2,7),(17.3,10),(17.4,8),(17.5,11),(17.6,9),(17.7,12),(17.8,10),(17.9,13),(18.0,11),(18.1,14),(18.2,12),(18.3,15),(18.4,14),(18.5,17),(18.6,16),(18.7,20),(18.8,21),(18.9,24),(19.0,23),(19.1,25),(19.2,22),(19.3,20),(19.4,18),(19.5,15),(19.55,14),(19.6,10),(19.7,6),(19.75,3),(19.8,5),(19.9,8),(20.0,4),(20.1,7),(20.2,5),(20.3,9),(20.4,6),(20.5,8),(20.6,5),(20.7,10),(20.75,3)]
WS_TR2 = [(2.3,5),(2.38,8),(2.45,6),(2.52,10),(2.6,8),(2.68,12),(2.75,9),(2.82,13),(2.9,10),(2.98,12),(3.05,9),(3.12,11),(3.2,8),(3.28,12),(3.35,15),(3.42,20),(3.5,15),(3.58,28),(3.62,22),(3.66,32),(3.7,26),(3.74,33),(3.78,20),(3.85,17),(3.92,14),(4.0,16),(4.08,12),(4.15,14),(4.22,10),(4.3,13),(4.38,9),(4.45,12),(4.52,8),(4.6,11),(4.68,7),(4.75,10),(4.82,6),(4.9,9),(4.98,6),(5.05,10),(5.12,7),(5.2,9),(5.28,5),(5.35,8),(5.42,6),(5.5,9),(5.58,5),(5.65,10),(5.72,6),(5.8,8),(5.88,5),(5.95,9),(6.02,6),(6.1,8),(6.18,5),(6.25,10),(6.32,6),(6.4,9),(6.48,5),(6.55,8),(6.62,7),(6.7,10),(6.78,6),(6.85,12),(6.9,16),(6.95,8),(7.02,10),(7.1,6),(7.18,9),(7.25,7),(7.32,10),(7.4,6),(7.48,9),(7.55,7),(7.62,10),(7.7,6),(7.78,9),(7.85,7),(7.92,10),(8.0,7),(8.1,9),(8.2,6),(8.3,8),(8.4,7),(8.5,10),(8.6,8),(8.7,10),(8.8,7),(8.9,11),(9.0,9),(9.1,10),(9.2,11),(9.3,10),(9.4,8),(9.5,7),(9.6,6),(9.7,5),(9.8,6),(9.9,5),(10.0,6),(10.1,8),(10.2,6),(10.3,9),(10.4,8),(10.5,11),(10.6,10),(10.7,12),(10.8,14),(10.9,13),(11.0,16),(11.1,18),(11.2,20),(11.3,17),(11.4,19),(11.5,15),(11.6,16),(11.7,13),(11.8,15),(11.9,12),(12.0,14),(12.1,17),(12.15,12),(12.2,13),(12.3,10),(12.4,12),(12.5,9),(12.6,10),(12.7,7),(12.8,9),(12.9,6),(13.0,8),(13.1,5),(13.2,7),(13.3,5),(13.4,8),(13.5,6),(13.6,9),(13.7,7),(13.8,11),(13.9,8),(14.0,10),(14.1,7),(14.2,9),(14.3,8),(14.4,11),(14.5,9),(14.6,7),(14.7,10),(14.8,8),(14.9,11),(15.0,9),(15.1,11),(15.2,10),(15.3,8),(15.4,7),(15.5,5),(15.6,4),(15.7,6),(15.8,4),(15.9,5),(16.0,3),(16.1,6),(16.2,4),(16.3,7),(16.4,5),(16.5,8),(16.6,6),(16.7,9),(16.8,7),(16.9,8),(17.0,6),(17.1,8),(17.2,7),(17.3,9),(17.4,8),(17.5,10),(17.6,9),(17.7,11),(17.8,10),(17.9,12),(18.0,11),(18.1,13),(18.2,12),(18.3,14),(18.4,13),(18.5,15),(18.6,15),(18.7,18),(18.8,19),(18.9,21),(19.0,22),(19.1,21),(19.2,19),(19.3,17),(19.4,14),(19.5,11),(19.6,7),(19.7,3),(19.75,2)]

RH_TR1 = [(1.36,88),(1.5,89),(1.7,88),(1.85,87),(1.9,82),(1.95,70),(2.0,63),(2.05,68),(2.1,62),(2.2,70),(2.3,75),(2.4,70),(2.5,68),(2.6,62),(2.7,60),(2.8,57),(2.9,55),(3.0,52),(3.1,55),(3.2,60),(3.3,72),(3.4,80),(3.5,78),(3.6,75),(3.7,70),(3.8,65),(3.9,55),(4.0,50),(4.1,45),(4.15,48),(4.2,55),(4.3,62),(4.35,68),(4.45,80),(4.5,75),(4.6,70),(4.7,80),(4.8,85),(4.9,88),(5.0,88),(5.1,75),(5.2,80),(5.3,82),(5.4,70),(5.5,80),(5.6,88),(5.7,90),(5.8,92),(5.9,91),(6.0,92),(6.1,90),(6.2,91),(6.3,88),(6.4,85),(6.5,88),(6.6,90),(6.7,89),(6.8,87),(6.9,85),(7.0,70),(7.05,55),(7.1,68),(7.2,88),(7.3,90),(7.5,91),(8.0,90),(8.5,91),(9.0,90),(9.5,91),(10.0,92),(10.5,91),(11.0,92),(11.3,90),(11.4,85),(11.5,88),(11.7,90),(12.0,85),(12.3,88),(12.5,87),(12.8,82),(13.0,85),(13.1,78),(13.15,72),(13.25,80),(13.4,85),(13.6,82),(13.8,75),(13.95,70),(14.0,65),(14.1,75),(14.2,80),(14.4,85),(14.6,80),(14.75,75),(14.85,65),(14.95,50),(15.05,75),(15.1,82),(15.3,85),(15.5,80),(15.6,75),(15.8,65),(15.9,60),(15.95,55),(16.05,72),(16.1,80),(16.3,85),(16.5,82),(16.7,80),(16.9,75),(17.0,65),(17.05,58),(17.1,68),(17.2,78),(17.4,80),(17.6,83),(17.8,85),(18.0,80),(18.2,82),(18.5,81),(18.8,83),(19.0,82),(19.3,84),(19.5,85),(19.7,86),(19.85,85),(19.95,78),(20.0,70),(20.05,72),(20.1,80),(20.2,85),(20.4,88),(20.6,87),(20.75,87)]
RH_TR2 = [(2.3,72),(2.4,70),(2.5,68),(2.6,66),(2.7,62),(2.8,58),(2.9,55),(3.0,50),(3.1,52),(3.2,58),(3.3,72),(3.35,80),(3.4,85),(3.5,82),(3.6,80),(3.7,72),(3.8,65),(3.9,52),(4.0,45),(4.05,42),(4.15,48),(4.25,58),(4.35,70),(4.4,80),(4.5,65),(4.6,72),(4.7,82),(4.8,88),(4.9,92),(5.0,82),(5.1,80),(5.2,86),(5.3,84),(5.4,76),(5.5,85),(5.6,91),(5.7,93),(5.8,92),(6.0,93),(6.2,92),(6.4,88),(6.6,91),(6.8,89),(6.9,87),(7.0,75),(7.05,65),(7.1,75),(7.2,89),(7.4,92),(7.6,93),(8.0,92),(8.5,93),(9.0,92),(9.5,93),(10.0,93),(10.5,92),(11.0,93),(11.3,91),(11.45,87),(11.6,91),(12.0,88),(12.4,90),(12.8,86),(13.0,82),(13.15,76),(13.3,84),(13.5,86),(13.7,82),(13.9,75),(13.98,55),(14.05,40),(14.12,60),(14.2,80),(14.4,86),(14.6,83),(14.8,75),(14.9,62),(14.95,55),(15.05,80),(15.15,85),(15.4,82),(15.6,78),(15.8,70),(15.9,55),(15.95,42),(16.02,60),(16.1,80),(16.3,84),(16.6,82),(16.9,78),(17.0,70),(17.05,65),(17.15,75),(17.3,81),(17.6,84),(18.0,85),(18.3,83),(18.6,84),(19.0,84),(19.3,85),(19.6,86),(19.75,87)]

AT_TR1 = [(1.35,-13.3),(1.45,-13),(1.55,-13.5),(1.65,-14.2),(1.75,-13.5),(1.9,-12),(2.0,-7),(2.05,-4.8),(2.12,-6),(2.18,-3),(2.25,-2),(2.32,-0.2),(2.4,1),(2.47,1.6),(2.53,-3),(2.6,0),(2.67,2.5),(2.75,1.5),(2.85,2.8),(2.95,2.5),(3.05,3.2),(3.12,3.8),(3.2,3),(3.3,2.5),(3.37,1.6),(3.45,2.5),(3.55,1.2),(3.65,1.6),(3.75,0.5),(3.85,-1.5),(3.95,0.5),(4.05,2.5),(4.1,2.5),(4.2,1),(4.27,-1.2),(4.35,-3),(4.41,-5.6),(4.48,-11),(4.55,-9),(4.62,-8),(4.69,-7.4),(4.78,-10),(4.87,-12.8),(4.95,-9),(5.05,-6.9),(5.15,-8),(5.25,-9.5),(5.33,-9.2),(5.45,-10.5),(5.55,-11.5),(5.61,-12),(5.7,-12.5),(5.8,-12),(5.9,-12.8),(6.0,-10),(6.1,-7.4),(6.2,-9),(6.3,-11),(6.4,-11.5),(6.5,-11),(6.6,-12),(6.7,-12.5),(6.8,-12),(6.88,-13),(6.95,-10),(7.0,-4.2),(7.05,-6),(7.12,-8),(7.2,-10),(7.3,-9),(7.4,-11),(7.6,-12),(7.8,-11),(8.0,-13),(8.2,-11),(8.5,-10),(8.8,-9),(9.0,-9.5),(9.3,-8.5),(9.6,-8),(10.0,-7.5),(10.3,-7),(10.6,-7.8),(11.0,-8),(11.3,-9),(11.6,-9.5),(12.0,-11),(12.3,-12),(12.6,-13),(12.9,-14),(13.2,-14.5),(13.55,-17.2),(13.83,-15.4),(13.97,-13.6),(14.04,-12.5),(14.1,-14),(14.17,-11.8),(14.31,-15.4),(14.52,-17.2),(14.7,-20),(14.8,-23.5),(14.94,-20.8),(15.0,-16),(15.08,-11.8),(15.18,-10.9),(15.28,-18.1),(15.35,-16),(15.46,-21.7),(15.56,-22.6),(15.7,-21.5),(15.8,-20),(15.91,-19.9),(16.0,-15),(16.05,-9),(16.1,-12),(16.2,-14.5),(16.33,-15.4),(16.54,-17.2),(16.75,-15.4),(16.96,-11.8),(17.05,-9),(17.1,-8.2),(17.2,-10),(17.3,-10),(17.5,-10.5),(17.72,-10),(18.07,-10.9),(18.42,-13.6),(18.84,-15.4),(19.05,-14),(19.26,-11.8),(19.6,-11.4),(19.81,-10.9),(19.95,-6.7),(20.09,-7.8),(20.15,-9),(20.23,-12.2),(20.35,-11.5),(20.51,-10.9),(20.65,-11.5),(20.79,-11.3)]
AT_TR2 = [(2.3,-1),(2.4,-1.5),(2.5,-0.5),(2.6,0.5),(2.7,1.5),(2.8,1.5),(2.9,2.5),(3.0,2),(3.1,3),(3.2,2.5),(3.3,2),(3.4,1.5),(3.5,2.2),(3.6,0.8),(3.7,-0.5),(3.8,-1.8),(3.9,0.5),(4.0,2.8),(4.1,3),(4.2,0.5),(4.3,-2),(4.4,-4.6),(4.5,-6),(4.6,-8.3),(4.7,-7),(4.8,-7.5),(4.9,-6),(5.0,-5.5),(5.1,-7),(5.2,-8.5),(5.3,-9),(5.5,-10),(5.6,-11),(5.7,-12),(5.9,-13.5),(6.0,-11),(6.1,-8.5),(6.2,-9),(6.3,-10),(6.5,-11.5),(6.6,-12),(6.8,-12.5),(6.9,-13.5),(7.0,-5.5),(7.05,-6.5),(7.15,-9),(7.2,-10),(7.4,-11.5),(7.6,-12.5),(7.8,-11.5),(8.0,-13),(8.2,-11.5),(8.5,-10.5),(8.8,-9.5),(9.0,-9.8),(9.3,-9),(9.6,-8.3),(10.0,-7.8),(10.3,-7.3),(10.6,-8),(11.0,-8.5),(11.3,-9.5),(11.6,-10),(12.0,-11.5),(12.3,-12.5),(12.6,-13.5),(12.9,-14.5),(13.2,-15),(13.55,-17),(13.83,-15),(13.97,-12),(14.04,-6),(14.1,-9),(14.17,-12),(14.31,-15.8),(14.52,-17.5),(14.7,-20.5),(14.8,-23),(14.94,-21),(15.08,-15),(15.18,-13),(15.28,-17.5),(15.46,-21),(15.56,-25.3),(15.7,-22),(15.8,-21),(15.91,-20.5),(15.98,-8.2),(16.05,-11),(16.12,-14.5),(16.33,-15.8),(16.54,-17.5),(16.75,-15.8),(16.96,-12),(17.1,-9),(17.3,-10),(17.72,-10),(18.07,-11.2),(18.42,-14),(18.84,-15.8),(19.05,-14.5),(19.26,-12.2),(19.6,-11.6),(19.8,-11)]

# tick labels
DAY_TICKS = list(range(1, 22))
HALF_DAYS = [d + 0.5 for d in range(1, 21)]

PANELS = [
    ("NH3 Tr1 (ppb)", "NH3 Tr2 (ppb)", NH3_TR1, NH3_TR2, [0, 50, 100, 150, 200, 250], ["0", "50", "100", "150", "200", "250"], "lines"),
    ("H2S Tr1 (ppb)", "H2S Tr2 (ppb)", H2S_TR1, H2S_TR2, [0, 1, 2, 3, 4, 5], ["0", "1", "2", "3", "4", "5"], "lines"),
    ("NMHC Tr1 (ppm)", "NMHC Tr2 (ppm)", NMHC_TR1, NMHC_TR2, [0, 0.1, 0.2, 0.3, 0.4, 0.5], [".0", ".1", ".2", ".3", ".4", ".5"], "lines"),
    ("TSP Tr1 (ug/m3)", "TSP Tr2 (ug/m3)", TSP_TR1, TSP_TR2, [0, 100, 200, 300, 400, 500], ["0", "100", "200", "300", "400", "500"], "lines"),
    ("PM2.5 Tr1 (ug/m3)", "PM2.5 Tr2 (ug/m3)", PM25_TR1, PM25_TR2, [0, 20, 40, 60, 80, 100], ["0", "20", "40", "60", "80", "100"], "lines"),
    ("WD Tr1 (°)", "WD Tr2 (°)", WD_TR1, WD_TR2, [0, 90, 180, 270, 360], ["0", "90", "180", "270", "360"], "markers"),
    ("WS Tr1 (kph)", "WS Tr2 (kph)", WS_TR1, WS_TR2, [0, 10, 20, 30, 40, 50], ["0", "10", "20", "30", "40", "50"], "lines"),
    ("RH Tr1 (%)", "RH Tr2 (%)", RH_TR1, RH_TR2, [0, 20, 40, 60, 80, 100], ["0", "20", "40", "60", "80", "100"], "lines"),
    ("AT Tr1 (°C)", "AT Tr2 (°C)", AT_TR1, AT_TR2, [-40, -25, -10, 5, 20, 35], ["-40", "-25", "-10", "5", "20", "35"], "lines"),
]

# ---------------- style ----------------
W, H = 1143, 1519
ML, MR, MT, MB = 77, 63, 14, 70
PLOT_H = H - MT - MB
PANEL_H, PANEL_STEP = 139, 162
RED, BLUE = "#E8461E", "#3B3E9E"
FRAME = "#a3a3a3"
GRID = "#6a6a6a"
TXT = "#555555"
FONT = "Liberation Serif"
XR = [0.52, 21.5]

def px_to_paper_y(py):
    return (H - MB - py) / PLOT_H

def px_to_paper_x(px):
    return (px - ML) / (W - ML - MR)

fig = go.Figure()
layout = dict(
    width=W, height=H,
    margin=dict(l=ML, r=MR, t=MT, b=MB),
    paper_bgcolor="white", plot_bgcolor="rgba(0,0,0,0)",
    showlegend=False, hovermode=False,
    font=dict(family=FONT, size=12, color=TXT),
)

# full-height background subplot: vertical dashed grid + left/right frame
layout["xaxis"] = dict(domain=[0, 1], anchor="y", range=XR, tickvals=HALF_DAYS, showgrid=True,
                       gridcolor=GRID, griddash="10px,6px", gridwidth=1, ticks="", showticklabels=False,
                       showline=False, zeroline=False, fixedrange=True)
layout["yaxis"] = dict(domain=[0, 1], anchor="x", range=[0, 1], showgrid=False, showline=True, mirror=True,
                       linecolor=FRAME, linewidth=2, ticks="", showticklabels=False, zeroline=False, fixedrange=True)
# empty trace so the background subplot is rendered
fig.add_trace(go.Scatter(x=[], y=[], xaxis="x", yaxis="y", mode="lines", hoverinfo="skip"))

shapes = []
n = len(PANELS)
for k, (t1, t2, d1, d2, tv, tt, mode) in enumerate(PANELS):
    xi, yl, yr = k + 2, k + 2, k + 2 + n
    top_px = MT + PANEL_STEP * k
    bot_px = top_px + PANEL_H
    dom = [px_to_paper_y(bot_px), px_to_paper_y(top_px)]
    rng = [tv[0], tv[-1]]
    last = (k == n - 1)
    layout[f"xaxis{xi}"] = dict(domain=[0, 1], anchor=f"y{yl}", range=XR, showline=True, mirror=True,
                                linecolor=FRAME, linewidth=2, showgrid=False, zeroline=False,
                                tickvals=DAY_TICKS, ticks="outside" if last else "", ticklen=8,
                                tickcolor="#888", showticklabels=last, tickangle=90,
                                tickfont=dict(family=FONT, size=12, color=TXT), fixedrange=True)
    common = dict(domain=dom, anchor=f"x{xi}", range=rng, tickvals=tv, ticktext=tt, ticks="outside",
                  ticklen=6, tickcolor="#888", showline=False, zeroline=False, fixedrange=True,
                  tickfont=dict(family=FONT, size=12, color=TXT))
    layout[f"yaxis{yl}"] = dict(common, showgrid=True, gridcolor=GRID, griddash="10px,5px", gridwidth=1,
                                title=dict(text=t1, standoff=4, font=dict(family=FONT, size=12, color=TXT)))
    layout[f"yaxis{yr}"] = dict(common, overlaying=f"y{yl}", side="right", showgrid=False,
                                title=dict(text=t2, standoff=8, font=dict(family=FONT, size=12, color=TXT)))

    for data, color, ya in ((d1, RED, yl), (d2, BLUE, yr)):
        xs = [p[0] for p in data]
        ys = [p[1] for p in data]
        if mode == "markers":
            fig.add_trace(go.Scatter(x=xs, y=ys, mode="markers", xaxis=f"x{xi}", yaxis=f"y{ya}",
                                     marker=dict(color=color, size=4), cliponaxis=False))
        else:
            fig.add_trace(go.Scatter(x=xs, y=ys, mode="lines", xaxis=f"x{xi}", yaxis=f"y{ya}",
                                     line=dict(color=color, width=1.2)))

    # side legend glyphs
    cy = (top_px + bot_px) / 2
    if mode == "markers":
        for i in range(6):
            py = cy - 37 + 15 * i
            for px, col in ((14, RED), (1141, BLUE)):
                shapes.append(dict(type="circle", xref="paper", yref="paper", xsizemode="pixel",
                                   ysizemode="pixel", xanchor=px_to_paper_x(px), yanchor=px_to_paper_y(py),
                                   x0=-1.6, x1=1.6, y0=-1.6, y1=1.6, fillcolor=col, line=dict(width=0)))
    else:
        for px, col in ((14, "#EE8B72"), (1141, "#7F82C0")):
            shapes.append(dict(type="line", xref="paper", yref="paper",
                               x0=px_to_paper_x(px), x1=px_to_paper_x(px),
                               y0=px_to_paper_y(cy + 42), y1=px_to_paper_y(cy - 42),
                               line=dict(color=col, width=2)))

# top day ticks on first panel
top_ax = 2 * n + 2
layout[f"xaxis{top_ax}"] = dict(overlaying="x2", side="top", anchor="y2", range=XR, tickvals=DAY_TICKS,
                                ticks="inside", ticklen=8, tickcolor="#888", showticklabels=False,
                                showline=False, showgrid=False, zeroline=False, fixedrange=True)
fig.add_trace(go.Scatter(x=[], y=[], xaxis=f"x{top_ax}", yaxis="y2", mode="lines", hoverinfo="skip"))

layout["shapes"] = shapes
layout["annotations"] = [dict(text="Day", xref="paper", yref="paper", x=px_to_paper_x(553),
                              y=px_to_paper_y(1507), showarrow=False,
                              font=dict(family=FONT, size=12, color=TXT))]
fig.update_layout(**layout)
fig.write_html("out.html")
